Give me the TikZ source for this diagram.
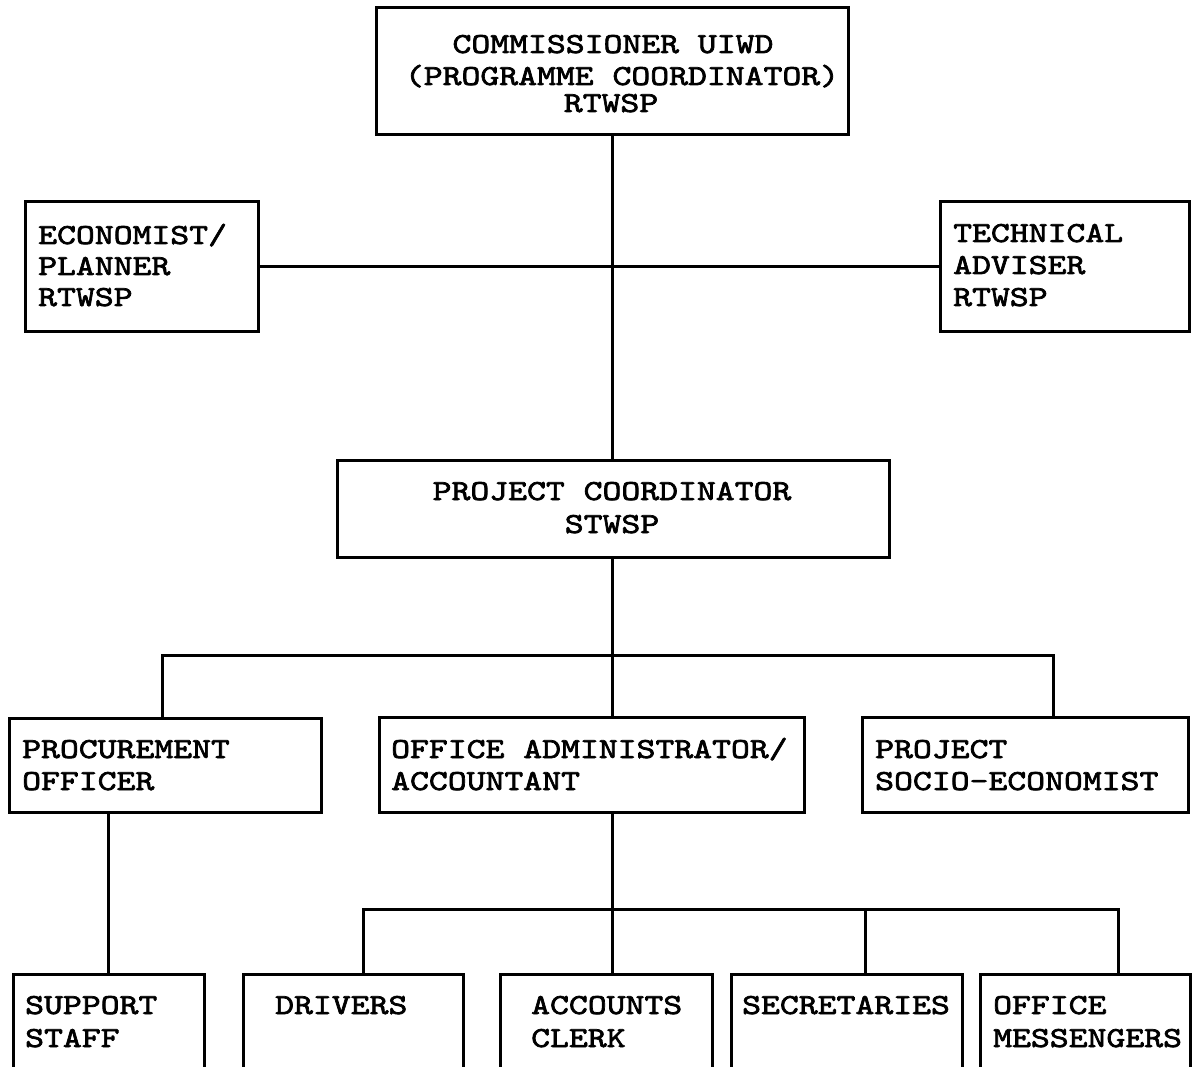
\documentclass[tikz,border=0pt]{standalone}
\usepackage{fontspec}
\newfontfamily\typer{lmmono10-regular}[Extension=.otf, FakeStretch=1.24, FakeBold=2.4]
\usetikzlibrary{fit}
\begin{document}
\begin{tikzpicture}[x=1pt, y=-1pt,
  box/.style={draw, line width=3pt, inner sep=0pt},
  wire/.style={line width=3pt},
  lbl/.style={inner sep=0pt, font=\typer\fontsize{29}{33}\selectfont}]
\useasboundingbox (0,0) rectangle (1192,1067);
\clip (0,0) rectangle (1192,1067);

% ---- boxes ----
\node[box, fit={(376,8) (848,135)}] (comm) {};
\node[box, fit={(25,202) (258,332)}] (econ) {};
\node[box, fit={(940,202) (1189,332)}] (tech) {};
\node[box, fit={(337,460) (889,557)}] (pc) {};
\node[box, fit={(9,718) (321,812)}] (proc) {};
\node[box, fit={(379,717) (804,812)}] (admin) {};
\node[box, fit={(862,717) (1188,812)}] (socio) {};
\node[box, fit={(13,974) (204,1090)}] (supp) {};
\node[box, fit={(243,974) (463,1090)}] (drv) {};
\node[box, fit={(500,974) (712,1090)}] (acc) {};
\node[box, fit={(731,974) (962,1090)}] (sec) {};
\node[box, fit={(980,974) (1190,1090)}] (mess) {};

% ---- texts ----
\node[lbl, anchor=base] (commA) at (613,53) {COMMISSIONER UIWD};
\node[lbl, anchor=base] (commB) at (622,85) {(PROGRAMME COORDINATOR)};
\node[lbl, anchor=base] (commC) at (611,112) {RTWSP};

\node[lbl, anchor=base west] (econA) at (38,244) {ECONOMIST/};
\node[lbl, anchor=base west] (econB) at (38,275) {PLANNER};
\node[lbl, anchor=base west] (econC) at (38,306) {RTWSP};

\node[lbl, anchor=base west] (techA) at (953,242) {TECHNICAL};
\node[lbl, anchor=base west] (techB) at (953,274) {ADVISER};
\node[lbl, anchor=base west] (techC) at (953,306) {RTWSP};

\node[lbl, anchor=base] (pcA) at (612,500) {PROJECT COORDINATOR};
\node[lbl, anchor=base] (pcB) at (612,533) {STWSP};

\node[lbl, anchor=base west] (procA) at (22,758) {PROCUREMENT};
\node[lbl, anchor=base west] (procB) at (22,790) {OFFICER};
\node[lbl, anchor=base west] (adminA) at (391,758) {OFFICE ADMINISTRATOR/};
\node[lbl, anchor=base west] (adminB) at (391,790) {ACCOUNTANT};
\node[lbl, anchor=base west] (socioA) at (875,758) {PROJECT};
\node[lbl, anchor=base west] (socioB) at (875,790) {SOCIO-ECONOMIST};

\node[lbl, anchor=base west] (suppA) at (25,1014) {SUPPORT};
\node[lbl, anchor=base west] (suppB) at (25,1047) {STAFF};
\node[lbl, anchor=base west] (drvA) at (275,1014) {DRIVERS};
\node[lbl, anchor=base west] (accA) at (531,1014) {ACCOUNTS};
\node[lbl, anchor=base west] (accB) at (531,1047) {CLERK};
\node[lbl, anchor=base west] (secA) at (742,1014) {SECRETARIES};
\node[lbl, anchor=base west] (messA) at (993,1014) {OFFICE};
\node[lbl, anchor=base west] (messB) at (993,1047) {MESSENGERS};

% ---- junction points ----
\coordinate (spine) at (612,0);
\coordinate (busL) at (162,655);
\coordinate (busR) at (1053,655);
\coordinate (tD) at (363,909);
\coordinate (tA) at (612,909);
\coordinate (tS) at (865,909);
\coordinate (tM) at (1118,909);

% ---- connectors ----
\draw[wire] (comm.south -| spine) -- (pc.north -| spine);
\draw[wire] (econ.east) -- (tech.west);
\draw[wire] (pc.south -| spine) -- (admin.north -| spine);
\draw[wire] (proc.north -| busL) -- (busL) -- (busR) -- (socio.north -| busR);
\draw[wire] (supp.north |- proc.south) -- (supp.north);
\draw[wire] (admin.south -| tA) -- (tA);
\draw[wire] (drv.north -| tD) -- (tD) -- (tM) -- (mess.north -| tM);
\draw[wire] (tS) -- (sec.north -| tS);
\draw[wire] (tA) -- (acc.north -| tA);
\end{tikzpicture}
\end{document}
